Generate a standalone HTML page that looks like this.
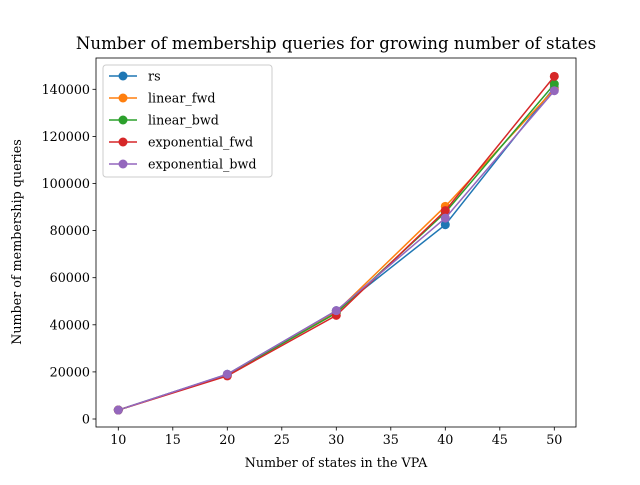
<!DOCTYPE html>
<html><head><meta charset="utf-8"><style>
body{margin:0;background:#fff}
svg text{font-family:"DejaVu Serif","Liberation Serif",serif;fill:#000}
</style></head><body>
<svg id="c" width="640" height="480" xmlns="http://www.w3.org/2000/svg"></svg>
<script>
const categories=[10,20,30,40,50];
const seriesNames=["rs","linear_fwd","linear_bwd","exponential_fwd","exponential_bwd"];
const colors=["#1f77b4","#ff7f0e","#2ca02c","#d62728","#9467bd"];
const rsVals=[3800,19000,46000,82500,140800];
const linFwdVals=[3800,18800,45500,90300,140000];
const linBwdVals=[3800,18700,45000,87700,142200];
const expFwdVals=[3800,18300,44000,88500,145500];
const expBwdVals=[3800,19000,46000,85300,139400];
const series=[rsVals,linFwdVals,linBwdVals,expFwdVals,expBwdVals];
const xTicks=[10,15,20,25,30,35,40,45,50];
const yTicks=[0,20000,40000,60000,80000,100000,120000,140000];
const L=96,R=576,T=58,B=427;
const X=v=>118.3+(v-10)*10.9;
const Y=v=>419-v*0.002355;
const svg=document.getElementById('c');
const NS="http://www.w3.org/2000/svg";
function mk(t,a,p){const e=document.createElementNS(NS,t);for(const k in a)e.setAttribute(k,a[k]);(p||svg).appendChild(e);return e;}
xTicks.forEach(v=>{
 const g=mk('g',{});
 
 
 mk('line',{x1:X(v),x2:X(v),y1:B,y2:B+3.5,stroke:'#000','stroke-width':0.8},g);
 const t=mk('text',{x:X(v),y:B+17,'text-anchor':'middle','font-size':'12.7'},g);t.textContent=v;
});
yTicks.forEach(v=>{
 const g=mk('g',{});
 
 
 mk('line',{x1:L-3.5,x2:L,y1:Y(v),y2:Y(v),stroke:'#000','stroke-width':0.8},g);
 const t=mk('text',{x:L-6,y:Y(v)+4.5,'text-anchor':'end','font-size':'12.7'},g);t.textContent=v;
});
series.forEach((s,i)=>{
 const g=mk('g',{});
 
 
 mk('polyline',{points:s.map((v,j)=>X(categories[j])+','+Y(v)).join(' '),fill:'none',stroke:colors[i],'stroke-width':1.5},g);
 s.forEach((v,j)=>{const c=mk('circle',{cx:X(categories[j]),cy:Y(v),r:4.5,fill:colors[i]},g);
  
  });
});
const ax=mk('rect',{x:L,y:T,width:R-L,height:B-T,fill:'none',stroke:'#000','stroke-width':0.8});


const title=mk('text',{x:336,y:49,'text-anchor':'middle','font-size':'16.6'});title.textContent='Number of membership queries for growing number of states';


const xl=mk('text',{x:336,y:467,'text-anchor':'middle','font-size':'12.7'});xl.textContent='Number of states in the VPA';


const yl=mk('text',{x:21,y:242,'text-anchor':'middle','font-size':'12.7',transform:'rotate(-90 21 242)'});yl.textContent='Number of membership queries';


const lg=mk('g',{});


mk('rect',{x:103,y:65,width:169,height:112,rx:3,fill:'#fff','fill-opacity':0.8,stroke:'#ccc'},lg);
seriesNames.forEach((n,i)=>{
 const y=76+i*22;
 const e=mk('g',{},lg);
 
 
 mk('line',{x1:109,x2:137,y1:y,y2:y,stroke:colors[i],'stroke-width':1.5},e);
 mk('circle',{cx:123,cy:y,r:4.5,fill:colors[i]},e);
 const t=mk('text',{x:148,y:y+4.5,'font-size':'12.7'},e);t.textContent=n;
});
</script>
</body></html>
